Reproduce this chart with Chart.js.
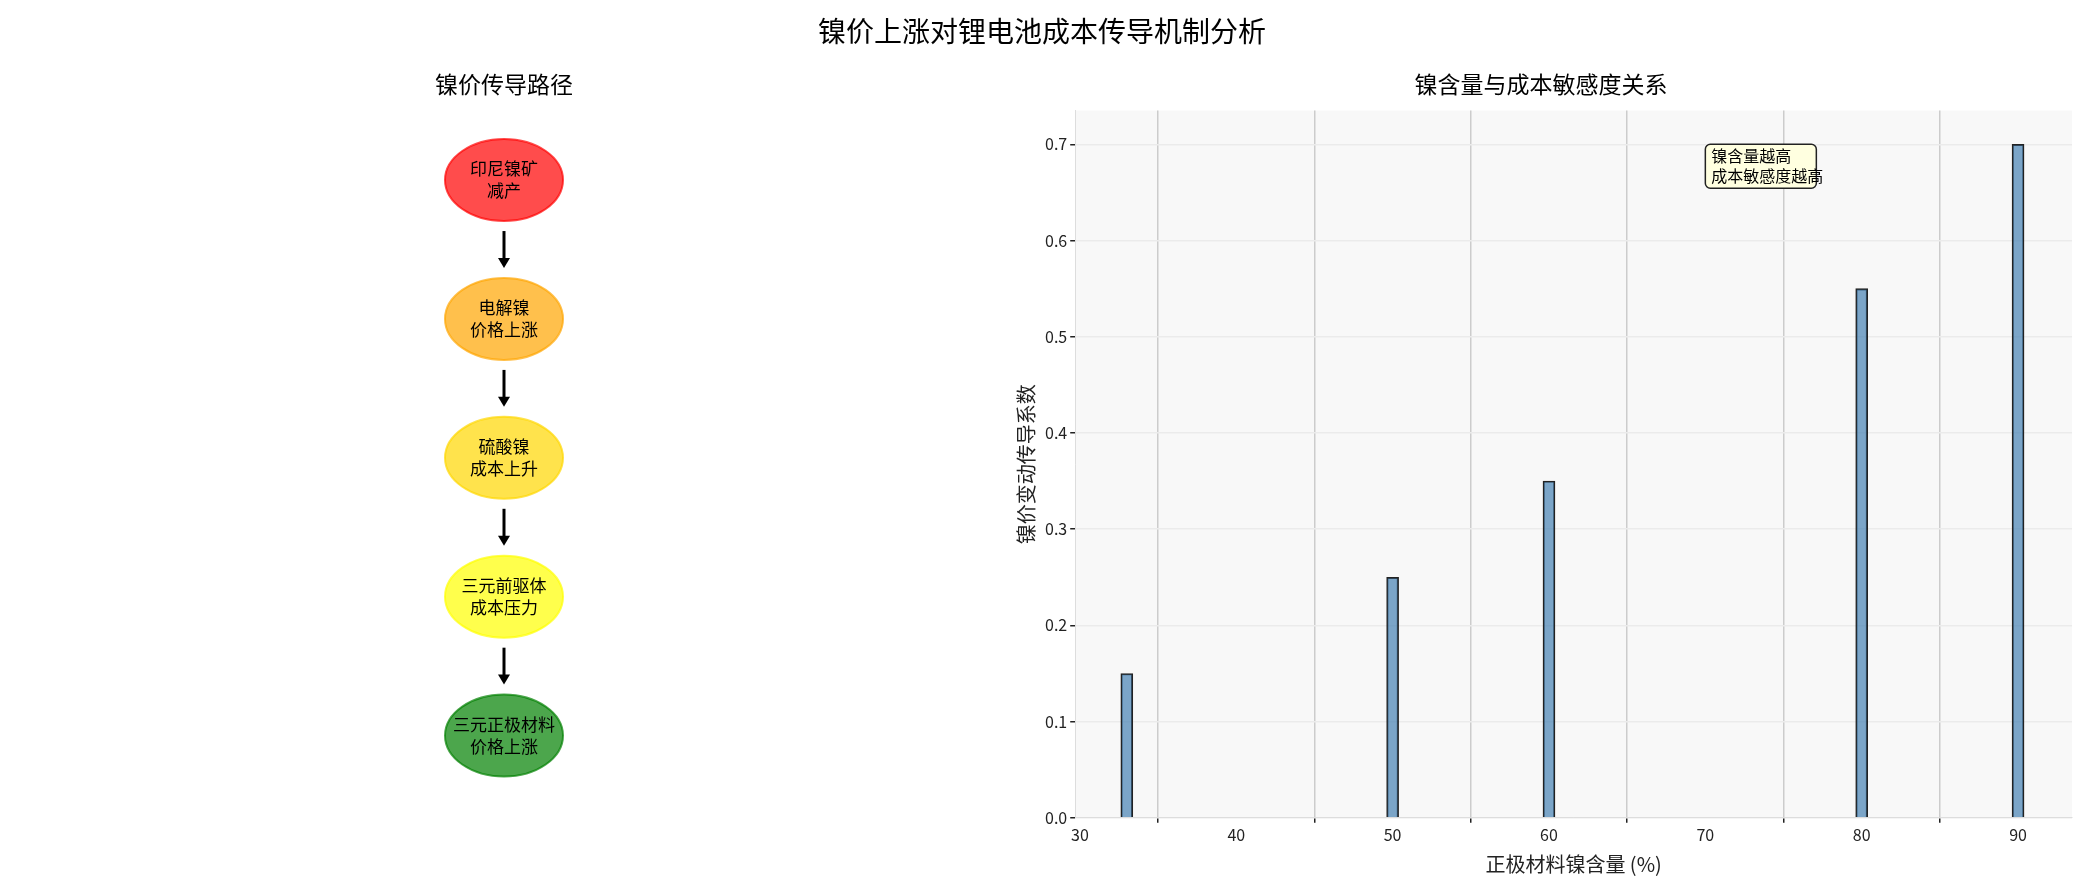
<!DOCTYPE html>
<html>
<head>
<meta charset="utf-8">
<script src="https://cdn.jsdelivr.net/npm/chart.js@4/dist/chart.umd.min.js"></script>
<style>
  body { margin: 0; background: #fff; width: 2084px; height: 890px; position: relative; overflow: hidden; }
  #mainTitle { position: absolute; top: 10px; left: 0; width: 2084px; text-align: center;
    font: 28px "Noto Sans CJK SC"; color: #000; z-index: 3; }
  canvas { position: absolute; left: 0; top: 0; }
</style>
</head>
<body>
<div id="mainTitle">镍价上涨对锂电池成本传导机制分析</div>
<canvas id="barChart" width="2084" height="890"></canvas>
<canvas id="flowChart" width="1008" height="890"></canvas>
<script>
const FONT = '"Noto Sans CJK SC", "Noto Sans", sans-serif';

// flow diagram data
const flowSteps = ['印尼镍矿\n减产', '电解镍\n价格上涨', '硫酸镍\n成本上升', '三元前驱体\n成本压力', '三元正极材料\n价格上涨'];
const flowColors = ['#ff0000', '#ffa500', '#ffd700', '#ffff00', '#008000'];
const flowLevels = [5, 4, 3, 2, 1];

// bar chart data
const nickelContent = [33, 50, 60, 80, 90];
const sensitivity = [0.15, 0.25, 0.35, 0.55, 0.70];

function hexA(hex, a) {
  const n = parseInt(hex.slice(1), 16);
  return `rgba(${n >> 16},${(n >> 8) & 255},${n & 255},${a})`;
}

// --- flow chart plugin: ellipses, text, arrows ---
const flowPlugin = {
  id: 'flowDraw',
  afterDatasetsDraw(chart) {
    const ctx = chart.ctx;
    const pts = chart.getDatasetMeta(0).data;
    const rx = 59, ry = 41;
    ctx.save();
    pts.forEach((p, i) => {
      ctx.beginPath();
      ctx.ellipse(p.x, p.y, rx, ry, 0, 0, Math.PI * 2);
      ctx.fillStyle = hexA(flowColors[i], 0.7);
      ctx.fill();
      ctx.lineWidth = 2;
      ctx.strokeStyle = hexA(flowColors[i], 0.7);
      ctx.stroke();
      ctx.fillStyle = '#000';
      ctx.font = '17px ' + FONT;
      ctx.textAlign = 'center';
      ctx.textBaseline = 'middle';
      const lines = flowSteps[i].split('\n');
      lines.forEach((l, k) => ctx.fillText(l, p.x, p.y + (k - (lines.length - 1) / 2) * 22));
      if (i < pts.length - 1) {
        const y0 = p.y + ry + 10, y1 = pts[i + 1].y - ry - 10;
        ctx.strokeStyle = '#000';
        ctx.lineWidth = 3;
        ctx.beginPath();
        ctx.moveTo(p.x, y0);
        ctx.lineTo(p.x, y1 - 8);
        ctx.stroke();
        ctx.beginPath();
        ctx.moveTo(p.x - 6, y1 - 10);
        ctx.lineTo(p.x + 6, y1 - 10);
        ctx.lineTo(p.x, y1);
        ctx.closePath();
        ctx.fillStyle = '#000';
        ctx.fill();
      }
    });
    ctx.restore();
  }
};

new Chart(document.getElementById('flowChart'), {
  type: 'scatter',
  data: { datasets: [{ data: flowLevels.map(v => ({ x: 0.5, y: v })), pointRadius: 0 }] },
  options: {
    responsive: false, animation: false, devicePixelRatio: 1,
    layout: { padding: { top: 0, bottom: 85, left: 0, right: 0 } },
    plugins: {
      legend: { display: false }, tooltip: { enabled: false },
      title: { display: true, text: '镍价传导路径', color: '#000',
        font: { family: FONT, size: 23, weight: 'normal' }, padding: { top: 70, bottom: 13 } }
    },
    scales: {
      x: { display: false, min: 0, max: 1 },
      y: { display: false, min: 0.5, max: 5.5 }
    }
  },
  plugins: [flowPlugin]
});

// --- bar chart plugins ---
const bgPlugin = {
  id: 'plotBg',
  beforeDraw(chart) {
    const a = chart.chartArea, ctx = chart.ctx;
    ctx.save();
    ctx.fillStyle = '#f8f8f8';
    ctx.fillRect(a.left, a.top, a.right - a.left, a.bottom - a.top);
    ctx.restore();
  }
};

const notePlugin = {
  id: 'note',
  afterDraw(chart) {
    const ctx = chart.ctx;
    const x = chart.scales.x.getPixelForValue(70);
    const y = chart.scales.y.getPixelForValue(0.70);
    const w = 111, h = 44;
    ctx.save();
    ctx.beginPath();
    if (ctx.roundRect) ctx.roundRect(x, y, w, h, 5); else ctx.rect(x, y, w, h);
    ctx.fillStyle = '#ffffe0';
    ctx.fill();
    ctx.strokeStyle = '#222';
    ctx.lineWidth = 1.5;
    ctx.stroke();
    ctx.fillStyle = '#000';
    ctx.font = '16px ' + FONT;
    ctx.textBaseline = 'middle';
    ctx.fillText('镍含量越高', x + 6, y + 12);
    ctx.fillText('成本敏感度越高', x + 6, y + 32);
    ctx.restore();
  }
};

new Chart(document.getElementById('barChart'), {
  type: 'bar',
  data: {
    datasets: [{
      data: nickelContent.map((x, i) => ({ x: x, y: sensitivity[i] })),
      backgroundColor: 'rgba(70,130,180,0.7)',
      borderColor: '#222',
      borderWidth: 1.5,
      barThickness: 12
    }]
  },
  options: {
    responsive: false, animation: false, devicePixelRatio: 1,
    layout: { padding: { left: 1010, right: 12, top: 0, bottom: 10 } },
    plugins: {
      legend: { display: false }, tooltip: { enabled: false },
      title: { display: true, text: '镍含量与成本敏感度关系', color: '#000',
        font: { family: FONT, size: 23, weight: 'normal' }, padding: { top: 70, bottom: 13 } }
    },
    scales: {
      x: {
        type: 'linear', min: 29.7, max: 93.45, offset: false,
        afterBuildTicks(s) { s.ticks = [30, 40, 50, 60, 70, 80, 90].map(v => ({ value: v })); },
        grid: { color: '#cccccc', lineWidth: 1.5, drawTicks: true, tickLength: 5, tickColor: '#222' },
        border: { color: '#dddddd' },
        ticks: { color: '#222', font: { family: FONT, size: 16 }, maxRotation: 0 },
        title: { display: true, text: '正极材料镍含量 (%)', color: '#222', font: { family: FONT, size: 20 } }
      },
      y: {
        min: 0, max: 0.735,
        afterBuildTicks(s) { s.ticks = [0, 0.1, 0.2, 0.3, 0.4, 0.5, 0.6, 0.7].map(v => ({ value: v })); },
        grid: { color: '#ebebeb', lineWidth: 1.5, tickLength: 5, tickColor: '#222' },
        border: { color: '#dddddd' },
        ticks: { color: '#222', font: { family: FONT, size: 16 }, callback: v => v.toFixed(1) },
        title: { display: true, text: '镍价变动传导系数', color: '#222', font: { family: FONT, size: 20 } }
      }
    }
  },
  plugins: [bgPlugin, notePlugin]
});
</script>
</body>
</html>
